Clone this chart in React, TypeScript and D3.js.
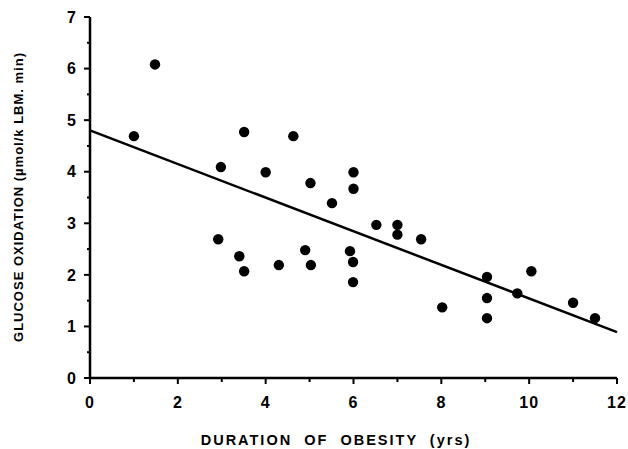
import React, { useEffect } from "react";
import * as d3 from "d3";

const durationYrs = [1.0, 1.48, 3.51, 4.63, 2.98, 4.0, 5.02, 6.0, 6.0, 5.51, 6.52, 7.0, 7.0, 7.54, 4.9, 5.03, 5.92, 5.99, 5.99, 8.02, 9.04, 9.04, 9.04, 9.73, 10.05, 11.0, 11.5, 2.92, 3.4, 3.51, 4.3];
const glucoseOx = [4.69, 6.08, 4.77, 4.69, 4.09, 3.99, 3.78, 3.99, 3.67, 3.39, 2.97, 2.97, 2.78, 2.69, 2.48, 2.19, 2.46, 2.25, 1.86, 1.37, 1.96, 1.55, 1.16, 1.64, 2.07, 1.46, 1.16, 2.69, 2.36, 2.07, 2.19];
const regressionX = [0, 12];
const regressionY = [4.8, 0.89];
const xTicks = [0, 2, 4, 6, 8, 10, 12];
const xMinorTicks = [1, 3, 5, 7, 9, 11];
const yTicks = [0, 1, 2, 3, 4, 5, 6, 7];
const yMinorTicks = [0.5, 1.5, 2.5, 3.5, 4.5, 5.5, 6.5];
const xTitle = "DURATION  OF  OBESITY  (yrs)";
const yTitle = "GLUCOSE OXIDATION (\u00b5mol/k LBM. min)";

export default function App() {
  useEffect(() => {
    document.body.style.margin = "0";
  }, []);
  const W = 628, H = 449;
  const x = d3.scaleLinear().domain([0, 12]).range([90, 617]);
  const y = d3.scaleLinear().domain([0, 7]).range([378, 17]);
  const font = "'Liberation Sans', Arial, sans-serif";
  const line = d3.line<number>().x((d) => x(regressionX[d])).y((d) => y(regressionY[d]));
  return (
    <svg width={W} height={H} style={{ display: "block", background: "#fff" }} fontFamily={font}>
      {/* axes */}
      <line x1={x(0)} x2={x(0)} y1={y(7)} y2={y(0) + 1} stroke="#000" strokeWidth={2.5} />
      <line x1={x(0) - 1} x2={x(12)} y1={y(0)} y2={y(0)} stroke="#000" strokeWidth={2.5} />
      {yTicks.map((t) => (
        <g key={"y" + t}>
          <line x1={x(0) - 6} x2={x(0)} y1={y(t)} y2={y(t)} stroke="#000" strokeWidth={2} />
          <text x={76} y={y(t)} dy="0.36em" textAnchor="end" fontSize={16} fontWeight="bold">{t}</text>
        </g>
      ))}
      {yMinorTicks.map((t) => (
        <line key={"ym" + t} x1={x(0) - 3} x2={x(0)} y1={y(t)} y2={y(t)} stroke="#000" strokeWidth={2} />
      ))}
      {xTicks.map((t) => (
        <g key={"x" + t}>
          <line x1={x(t)} x2={x(t)} y1={y(0)} y2={y(0) + 6} stroke="#000" strokeWidth={2} />
          <text x={x(t)} y={402} dy="0.36em" textAnchor="middle" fontSize={16} fontWeight="bold" letterSpacing={1}>{t}</text>
        </g>
      ))}
      {xMinorTicks.map((t) => (
        <line key={"xm" + t} x1={x(t)} x2={x(t)} y1={y(0)} y2={y(0) + 4} stroke="#000" strokeWidth={2} />
      ))}
      {/* regression line */}
      <path d={line([0, 1]) || ""} fill="none" stroke="#000" strokeWidth={2.5} />
      {/* points */}
      {durationYrs.map((d, i) => (
        <circle key={i} cx={x(d)} cy={y(glucoseOx[i])} r={5.2} fill="#000" />
      ))}
      {/* titles */}
      <text x={336} y={440} dy="0.36em" textAnchor="middle" fontSize={14.5} fontWeight="bold" style={{ whiteSpace: "pre" }} letterSpacing={2}>{xTitle}</text>
      <text transform={`translate(18,197) rotate(-90)`} dy="0.36em" textAnchor="middle" fontSize={13} fontWeight="bold" letterSpacing={1}>{yTitle}</text>
    </svg>
  );
}
